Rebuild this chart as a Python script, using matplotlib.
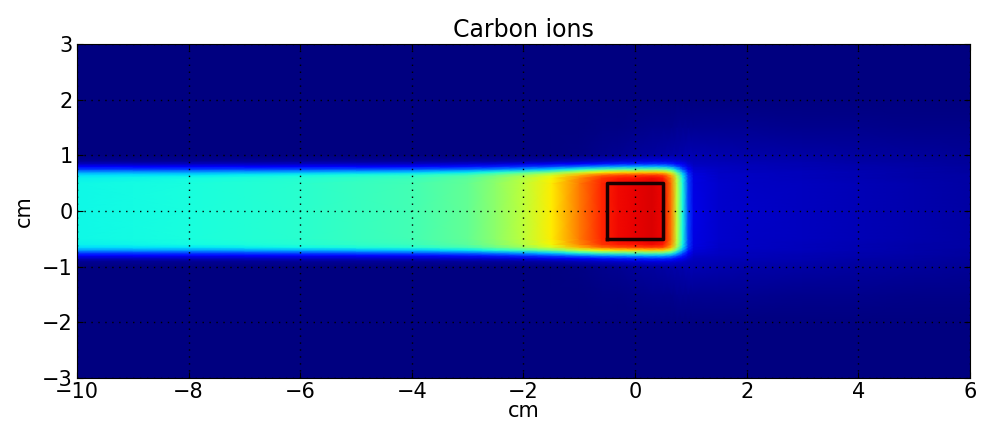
import matplotlib
matplotlib.use("Agg")
import matplotlib.pyplot as plt
import numpy as np

# depth positions (cm) and dose read along the beam axis (jet scale 0..1)
depth_x = [-10, -8, -6, -4, -3, -2.5, -2, -1.5, -1, -0.6, -0.3, 0, 0.3,
           0.5, 0.65, 0.75, 0.85, 0.95, 1.05, 1.5, 2, 3, 4, 5, 6]
primary_dose = [0.37, 0.38, 0.40, 0.43, 0.47, 0.52, 0.58, 0.66, 0.77, 0.85,
                0.87, 0.87, 0.87, 0.85, 0.72, 0.52, 0.31, 0.12, 0.02, 0.0,
                0.0, 0.0, 0.0, 0.0, 0.0]
tail_dose = [0, 0, 0, 0, 0, 0, 0, 0, 0.01, 0.02, 0.03, 0.04, 0.05,
             0.055, 0.06, 0.065, 0.07, 0.072, 0.072, 0.07, 0.065, 0.058, 0.05, 0.042, 0.035]

# lateral positions (cm) and relative profiles
lateral_y = [-3, -2, -1.5, -1.0, -0.9, -0.85, -0.8, -0.75, -0.7, -0.65, -0.6, -0.5,
             0, 0.5, 0.6, 0.65, 0.7, 0.75, 0.8, 0.85, 0.9, 1.0, 1.5, 2, 3]
primary_lat = [0, 0, 0, 0, 0.06, 0.15, 0.3, 0.5, 0.75, 0.92, 0.98, 1,
               1, 1, 0.98, 0.92, 0.75, 0.5, 0.3, 0.15, 0.06, 0, 0, 0, 0]
tail_lat = [0, 0.05, 0.25, 0.6, 0.7, 0.75, 0.8, 0.84, 0.88, 0.91, 0.93, 0.96,
            1, 0.96, 0.93, 0.91, 0.88, 0.84, 0.8, 0.75, 0.7, 0.6, 0.25, 0.05, 0]

target = [-0.5, 0.5, -0.5, 0.5]  # x0, x1, y0, y1

dose = np.outer(primary_lat, primary_dose) + np.outer(tail_lat, tail_dose)

plt.rcParams["font.family"] = ["DejaVu Sans"]
plt.rcParams["font.size"] = 15

fig = plt.figure(figsize=(9.83, 4.33), dpi=100)
ax = fig.add_axes([0.0783, 0.127, 0.9085, 0.7714])

ax.pcolormesh(depth_x, lateral_y, dose, cmap="jet", vmin=0, vmax=1,
              shading="gouraud", rasterized=True)
ax.plot([target[0], target[1], target[1], target[0], target[0]],
        [target[2], target[2], target[3], target[3], target[2]],
        color="#1a0000", lw=2.5)

ax.set_xlim(-10, 6)
ax.set_ylim(-3, 3)
ax.set_xticks(np.arange(-10, 7, 2))
ax.set_yticks(np.arange(-3, 4, 1))
ax.grid(True, color="black", linestyle=(0, (1, 4)), linewidth=1)
ax.tick_params(direction="in", top=True, right=True, length=4, pad=3)
ax.set_title("Carbon ions", fontsize=17, pad=5)
ax.set_xlabel("cm", labelpad=-1)
ax.set_ylabel("cm", labelpad=6)

fig.savefig("out.png", dpi=100)
